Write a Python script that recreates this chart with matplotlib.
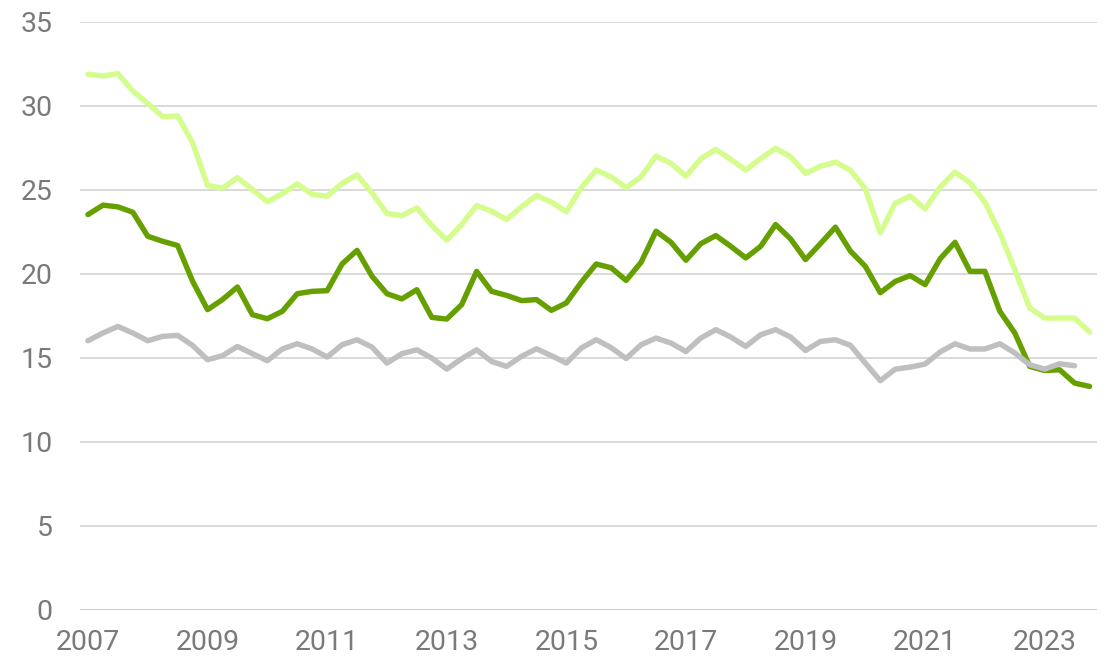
import numpy as np
import matplotlib
matplotlib.use("Agg")
import matplotlib.pyplot as plt

plt.rcParams['font.family'] = ['Roboto', 'DejaVu Sans']

# Quarterly data, 2007 Q1 .. 2023 Q4
quarters = [f"{y}Q{q}" for y in range(2007, 2024) for q in range(1, 5)]

light_green = [31.87, 31.77, 31.91, 30.88, 30.13, 29.35, 29.39, 27.80,
               25.25, 25.09, 25.71, 25.01, 24.28, 24.76, 25.35, 24.72,
               24.62, 25.38, 25.88, 24.82, 23.58, 23.46, 23.92, 22.87,
               21.99, 22.93, 24.06, 23.72, 23.23, 23.98, 24.66, 24.26,
               23.69, 25.12, 26.17, 25.76, 25.12, 25.77, 27.00, 26.57,
               25.81, 26.85, 27.40, 26.80, 26.17, 26.85, 27.46, 26.96,
               25.97, 26.40, 26.64, 26.16, 25.06, 22.43, 24.20, 24.62,
               23.86, 25.15, 26.05, 25.41, 24.26, 22.43, 20.24, 17.96,
               17.36, 17.36, 17.36, 16.53]

dark_green = [23.52, 24.08, 23.98, 23.66, 22.23, 21.93, 21.68, 19.55,
              17.86, 18.46, 19.21, 17.56, 17.32, 17.76, 18.81, 18.95,
              18.99, 20.58, 21.39, 19.85, 18.81, 18.50, 19.05, 17.40,
              17.30, 18.16, 20.14, 18.95, 18.71, 18.40, 18.46, 17.82,
              18.26, 19.49, 20.58, 20.35, 19.60, 20.68, 22.53, 21.87,
              20.80, 21.79, 22.27, 21.63, 20.94, 21.63, 22.93, 22.07,
              20.84, 21.79, 22.77, 21.35, 20.44, 18.87, 19.54, 19.89,
              19.35, 20.88, 21.87, 20.14, 20.14, 17.76, 16.47, 14.48,
              14.24, 14.28, 13.49, 13.29]

gray = [16.01, 16.47, 16.86, 16.47, 16.01, 16.27, 16.33, 15.73,
        14.88, 15.12, 15.67, 15.24, 14.82, 15.52, 15.83, 15.52,
        15.04, 15.77, 16.07, 15.63, 14.68, 15.24, 15.47, 14.98,
        14.32, 14.94, 15.47, 14.78, 14.48, 15.08, 15.53, 15.12,
        14.68, 15.58, 16.07, 15.60, 14.95, 15.77, 16.17, 15.87,
        15.37, 16.17, 16.67, 16.23, 15.67, 16.37, 16.67, 16.23,
        15.43, 15.97, 16.07, 15.74, 14.68, 13.63, 14.32, 14.44,
        14.62, 15.34, 15.83, 15.52, 15.52, 15.83, 15.28, 14.58,
        14.32, 14.64, 14.52, np.nan]

year_labels = ["2007", "2009", "2011", "2013", "2015", "2017", "2019", "2021", "2023"]
y_ticks = [0, 5, 10, 15, 20, 25, 30, 35]

x = np.arange(len(quarters))
tick_pos = [quarters.index(f"{y}Q1") for y in year_labels]

fig = plt.figure(figsize=(11.07, 6.62), dpi=100)
ax = fig.add_axes([0.0727, 0.0790, 0.9183, 0.8882])

lw = 3.9
kw = dict(linewidth=lw, solid_capstyle='round', solid_joinstyle='round')
ax.plot(x, dark_green, color="#66a000", zorder=3, **kw)
ax.plot(x, light_green, color="#d4fd8e", zorder=3, **kw)
ax.plot(x, gray, color="#bfbfbf", zorder=4, **kw)

ax.set_xlim(-0.5, len(quarters) - 0.5)
ax.set_ylim(0, 35)
ax.set_yticks(y_ticks)
ax.set_yticklabels([str(v) for v in y_ticks])
ax.set_xticks(tick_pos)
ax.set_xticklabels(year_labels)

for v in y_ticks:
    ax.axhline(v, color="#d9d9d9" if v else "#cccccc", linewidth=1.4, zorder=1)

for s in ax.spines.values():
    s.set_visible(False)
ax.tick_params(axis='both', length=0, labelsize=20.5, colors="#7a7a7a")
ax.tick_params(axis='y', pad=20)
ax.tick_params(axis='x', pad=14)
ax.set_clip_on(False)

fig.savefig("out.png", dpi=100)
